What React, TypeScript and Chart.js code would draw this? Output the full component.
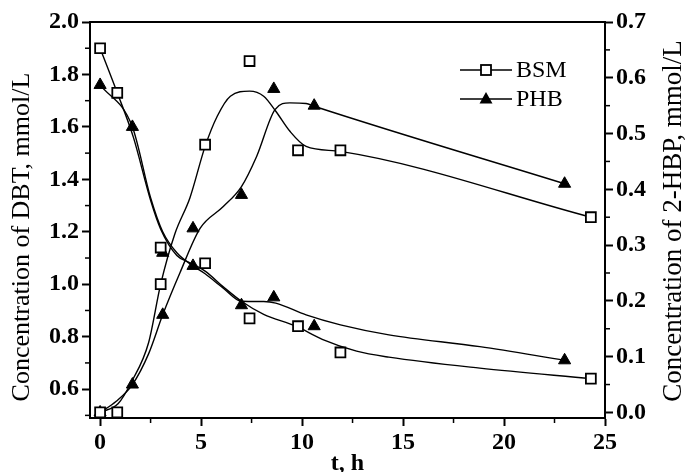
import React, { useEffect, useRef } from 'react';
import { Chart, registerables } from 'chart.js';

Chart.register(...registerables);

// ---- measured data (markers) ----
const bsmTime = [0, 0.85, 3.0, 5.2, 7.4, 9.8, 11.9, 24.3];
const bsmDBT = [1.9, 1.73, 1.14, 1.08, 0.87, 0.84, 0.74, 0.64];
const bsmHBP = [0.0, 0.0, 0.23, 0.48, 0.63, 0.47, 0.47, 0.35];

const phbTime = [0, 1.6, 3.1, 4.6, 7.0, 8.6, 10.6, 23.0];
const phbDBT = [1.76, 1.6, 1.12, 1.07, 0.92, 0.95, 0.84, 0.71];
const phbHBP = [0.0, 0.05, 0.175, 0.33, 0.39, 0.58, 0.55, 0.41];

// ---- smoothed curves as drawn in the figure ----
const bsmDBTCurveT = [0, 0.85, 1.65, 2.5, 3.0, 3.8, 4.5, 5.2, 6.1, 7.0, 8.1, 9.7, 11.0, 12.7, 14.3, 18.8, 24.3];
const bsmDBTCurveV = [1.9, 1.73, 1.56, 1.32, 1.21, 1.11, 1.08, 1.05, 0.99, 0.935, 0.885, 0.84, 0.79, 0.745, 0.722, 0.68, 0.64];

const phbDBTCurveT = [0, 1.6, 2.5, 3.1, 3.8, 4.6, 5.2, 6.1, 7.0, 8.1, 8.7, 10.2, 11.9, 14.3, 18.8, 23.0];
const phbDBTCurveV = [1.76, 1.6, 1.33, 1.2, 1.12, 1.07, 1.04, 0.985, 0.935, 0.934, 0.928, 0.883, 0.845, 0.807, 0.762, 0.71];

const bsmHBPCurveT = [0, 0.9, 1.56, 2.4, 3.0, 3.7, 4.45, 5.2, 5.8, 6.45, 7.4, 8.1, 8.7, 9.4, 10.2, 11.9, 24.3];
const bsmHBPCurveV = [0.0, 0.016, 0.055, 0.125, 0.23, 0.32, 0.385, 0.477, 0.531, 0.567, 0.576, 0.567, 0.54, 0.504, 0.477, 0.468, 0.35];

const phbHBPCurveT = [0, 0.8, 1.6, 2.4, 3.1, 3.95, 4.95, 6.1, 7.0, 7.75, 8.66, 9.4, 10.2, 10.6, 23.0];
const phbHBPCurveV = [0.0, 0.02, 0.05, 0.105, 0.175, 0.25, 0.33, 0.369, 0.405, 0.459, 0.543, 0.555, 0.554, 0.549, 0.41];

// ---- axes ----
const xTicks = [0, 5, 10, 15, 20, 25];
const xMinor = [2.5, 7.5, 12.5, 17.5, 22.5];
const yLeftTicks = [0.6, 0.8, 1.0, 1.2, 1.4, 1.6, 1.8, 2.0];
const yLeftMinor = [0.5, 0.7, 0.9, 1.1, 1.3, 1.5, 1.7, 1.9];
const yRightTicks = [0.0, 0.1, 0.2, 0.3, 0.4, 0.5, 0.6, 0.7];
const yRightMinor = [0.05, 0.15, 0.25, 0.35, 0.45, 0.55, 0.65];

const leftTitle = 'Concentration of DBT, mmol/L';
const rightTitle = 'Concentration of 2-HBP, mmol/L';
const xTitle = 't, h';
const legendNames = ['BSM', 'PHB'];

const SERIF = "'Liberation Serif', 'Times New Roman', serif";

const pts = (t: number[], v: number[]) => t.map((x, i) => ({ x, y: v[i] }));

export default function App() {
  const ref = useRef<HTMLCanvasElement>(null);

  useEffect(() => {
    const canvas = ref.current;
    if (!canvas) return;

    const decor = {
      id: 'decor',
      afterDraw(chart: any) {
        const c = chart.ctx as CanvasRenderingContext2D;
        const a = chart.chartArea;
        const sx = chart.scales.x;
        const yl = chart.scales.yL;
        const yr = chart.scales.yR;
        c.save();
        c.strokeStyle = '#000';
        c.lineWidth = 2;
        c.beginPath();
        c.moveTo(a.left - 1, a.top);
        c.lineTo(a.right + 1, a.top);
        c.stroke();

        c.lineWidth = 1.5;
        xMinor.forEach((v) => {
          const p = sx.getPixelForValue(v);
          c.beginPath();
          c.moveTo(p, a.bottom);
          c.lineTo(p, a.bottom + 5);
          c.stroke();
        });
        yLeftMinor.forEach((v) => {
          const p = yl.getPixelForValue(v);
          if (p > a.bottom) return;
          c.beginPath();
          c.moveTo(a.left, p);
          c.lineTo(a.left - 5, p);
          c.stroke();
        });
        yRightMinor.forEach((v) => {
          const p = yr.getPixelForValue(v);
          c.beginPath();
          c.moveTo(a.right, p);
          c.lineTo(a.right + 5, p);
          c.stroke();
        });

        // titles
        c.fillStyle = '#000';
        c.textAlign = 'center';
        c.textBaseline = 'middle';
        c.font = `26px ${SERIF}`;
        c.save();
        c.translate(22, 237);
        c.rotate(-Math.PI / 2);
        c.fillText(leftTitle, 0, 0);
        c.restore();
        c.font = `27px ${SERIF}`;
        c.save();
        c.translate(674, 221);
        c.rotate(-Math.PI / 2);
        c.fillText(rightTitle, 0, 0);
        c.restore();

        c.font = `bold 24px ${SERIF}`;
        c.textBaseline = 'alphabetic';
        c.fillText(xTitle, (a.left + a.right) / 2, 470);

        // legend
        const rows = [70, 99];
        rows.forEach((y, i) => {
          c.strokeStyle = '#000';
          c.lineWidth = 1.5;
          c.beginPath();
          c.moveTo(460, y);
          c.lineTo(512, y);
          c.stroke();
          if (i === 0) {
            c.fillStyle = '#fff';
            c.fillRect(481, y - 5, 10, 10);
            c.lineWidth = 1.8;
            c.strokeRect(481, y - 5, 10, 10);
          } else {
            c.fillStyle = '#000';
            c.beginPath();
            c.moveTo(486, y - 7);
            c.lineTo(492.5, y + 4.5);
            c.lineTo(479.5, y + 4.5);
            c.closePath();
            c.fill();
          }
          c.fillStyle = '#000';
          c.font = `24px ${SERIF}`;
          c.textAlign = 'left';
          c.textBaseline = 'middle';
          c.fillText(legendNames[i], 516, y + 1);
        });
        c.restore();
      },
    };

    const curve = (t: number[], v: number[], axis: string) => ({
      type: 'line' as const,
      data: pts(t, v),
      yAxisID: axis,
      showLine: true,
      borderColor: '#000',
      borderWidth: 1.4,
      pointRadius: 0,
      cubicInterpolationMode: 'monotone' as const,
      fill: false,
    });
    const markers = (t: number[], v: number[], axis: string, style: string) => ({
      type: 'scatter' as const,
      data: pts(t, v),
      yAxisID: axis,
      showLine: false,
      pointStyle: style,
      pointRadius: 7,
      pointBackgroundColor: style === 'rect' ? '#fff' : '#000',
      pointBorderColor: '#000',
      pointBorderWidth: style === 'rect' ? 1.8 : 1,
    });

    const tickFont = { family: SERIF, size: 24, weight: 'bold' as const };
    const grid = {
      display: true,
      drawOnChartArea: false,
      drawTicks: true,
      tickLength: 8,
      tickWidth: 2,
      tickColor: '#000',
    };
    const border = { display: true, color: '#000', width: 2 };

    const chart = new Chart(canvas, {
      type: 'scatter',
      data: {
        datasets: [
          markers(bsmTime, bsmDBT, 'yL', 'rect'),
          markers(phbTime, phbDBT, 'yL', 'triangle'),
          markers(bsmTime, bsmHBP, 'yR', 'rect'),
          markers(phbTime, phbHBP, 'yR', 'triangle'),
          curve(bsmDBTCurveT, bsmDBTCurveV, 'yL'),
          curve(phbDBTCurveT, phbDBTCurveV, 'yL'),
          curve(bsmHBPCurveT, bsmHBPCurveV, 'yR'),
          curve(phbHBPCurveT, phbHBPCurveV, 'yR'),
        ] as any,
      },
      options: {
        animation: false,
        responsive: false,
        maintainAspectRatio: false,
        layout: { padding: { top: 22, left: 0, right: 0, bottom: 0 } },
        plugins: { legend: { display: false }, tooltip: { enabled: false } },
        scales: {
          x: {
            type: 'linear',
            min: -0.5,
            max: 25,
            grid,
            border,
            afterBuildTicks: (s: any) => {
              s.ticks = xTicks.map((value) => ({ value }));
            },
            afterFit: (s: any) => {
              s.height = 54;
            },
            ticks: {
              font: tickFont,
              color: '#000',
              padding: 2,
              maxRotation: 0,
              callback: (v: any) => String(v),
            },
          },
          yL: {
            type: 'linear',
            position: 'left',
            min: 0.49,
            max: 2.0,
            grid,
            border,
            afterBuildTicks: (s: any) => {
              s.ticks = yLeftTicks.map((value) => ({ value }));
            },
            afterFit: (s: any) => {
              s.width = 90;
            },
            ticks: {
              font: tickFont,
              color: '#000',
              padding: 3,
              callback: (v: any) => Number(v).toFixed(1),
            },
          },
          yR: {
            type: 'linear',
            position: 'right',
            min: -0.01,
            max: 0.7,
            grid,
            border,
            afterBuildTicks: (s: any) => {
              s.ticks = yRightTicks.map((value) => ({ value }));
            },
            afterFit: (s: any) => {
              s.width = 81;
            },
            ticks: {
              font: tickFont,
              color: '#000',
              padding: 3,
              callback: (v: any) => Number(v).toFixed(1),
            },
          },
        },
      } as any,
      plugins: [decor],
    });

    return () => chart.destroy();
  }, []);

  return (
    <div style={{ position: 'fixed', left: 0, top: 0, width: 686, height: 472, background: '#fff' }}>
      <canvas ref={ref} width={686} height={472} style={{ width: 686, height: 472, display: 'block' }} />
    </div>
  );
}
